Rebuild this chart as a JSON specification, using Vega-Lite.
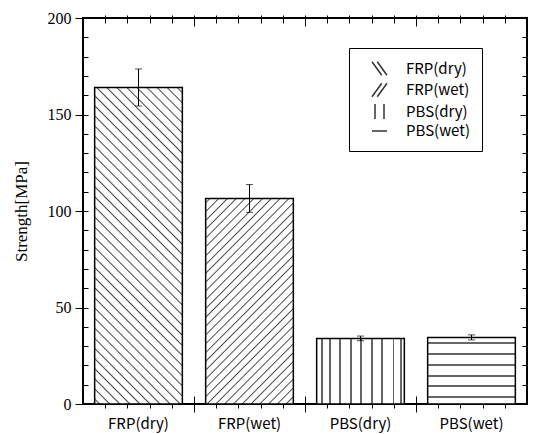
{
 "$schema": "https://vega.github.io/schema/vega-lite/v6.json",
 "width": 444,
 "height": 386,
 "autosize": {"type": "none"},
 "padding": {"left": 83, "top": 18, "right": 6, "bottom": 30},
 "config": {
  "view": {"stroke": "black", "strokeWidth": 2},
  "axis": {"tickColor": "black", "tickWidth": 1, "grid": false, "domain": false, "labelColor": "black"},
  "legend": {"labelFont": "Noto Sans CJK JP", "labelFontSize": 15, "labelColor": "black"}
 },
 "data": {"values": [
  {"material": "FRP(dry)", "strength": 164, "err": 9.6},
  {"material": "FRP(wet)", "strength": 106.5, "err": 7.2},
  {"material": "PBS(dry)", "strength": 34, "err": 1.2},
  {"material": "PBS(wet)", "strength": 34.5, "err": 1.3}
 ]},
 "layer": [
  {
   "encoding": {
    "x": {"field": "material", "type": "nominal", "sort": null,
     "scale": {"paddingInner": 0, "paddingOuter": 0},
     "axis": {"orient": "bottom", "ticks": false, "labelAngle": 0, "labelFont": "Noto Sans CJK JP", "labelFontSize": 15, "labelColor": "black", "labelPadding": 12, "title": null}},
    "y": {"field": "strength", "type": "quantitative",
     "scale": {"domain": [0, 200], "nice": false}, "axis": null}
   },
   "layer": [
    {"transform": [{"filter": "datum.material == 'FRP(dry)'"}],
     "mark": {"type": "bar", "width": {"band": 0.79}, "stroke": "black", "strokeWidth": 1.5,
      "fill": {"gradient": "linear", "x1": 0, "y1": 1, "x2": 0.33, "y2": -0.186, "stops": [
{"offset":0.009,"color":"#fff"},{"offset":0.0125,"color":"#444"},{"offset":0.016,"color":"#fff"},
{"offset":0.034,"color":"#fff"},{"offset":0.0375,"color":"#444"},{"offset":0.041,"color":"#fff"},
{"offset":0.059,"color":"#fff"},{"offset":0.0625,"color":"#444"},{"offset":0.066,"color":"#fff"},
{"offset":0.084,"color":"#fff"},{"offset":0.0875,"color":"#444"},{"offset":0.091,"color":"#fff"},
{"offset":0.109,"color":"#fff"},{"offset":0.1125,"color":"#444"},{"offset":0.116,"color":"#fff"},
{"offset":0.134,"color":"#fff"},{"offset":0.1375,"color":"#444"},{"offset":0.141,"color":"#fff"},
{"offset":0.159,"color":"#fff"},{"offset":0.1625,"color":"#444"},{"offset":0.166,"color":"#fff"},
{"offset":0.184,"color":"#fff"},{"offset":0.1875,"color":"#444"},{"offset":0.191,"color":"#fff"},
{"offset":0.209,"color":"#fff"},{"offset":0.2125,"color":"#444"},{"offset":0.216,"color":"#fff"},
{"offset":0.234,"color":"#fff"},{"offset":0.2375,"color":"#444"},{"offset":0.241,"color":"#fff"},
{"offset":0.259,"color":"#fff"},{"offset":0.2625,"color":"#444"},{"offset":0.266,"color":"#fff"},
{"offset":0.284,"color":"#fff"},{"offset":0.2875,"color":"#444"},{"offset":0.291,"color":"#fff"},
{"offset":0.309,"color":"#fff"},{"offset":0.3125,"color":"#444"},{"offset":0.316,"color":"#fff"},
{"offset":0.334,"color":"#fff"},{"offset":0.3375,"color":"#444"},{"offset":0.341,"color":"#fff"},
{"offset":0.359,"color":"#fff"},{"offset":0.3625,"color":"#444"},{"offset":0.366,"color":"#fff"},
{"offset":0.384,"color":"#fff"},{"offset":0.3875,"color":"#444"},{"offset":0.391,"color":"#fff"},
{"offset":0.409,"color":"#fff"},{"offset":0.4125,"color":"#444"},{"offset":0.416,"color":"#fff"},
{"offset":0.434,"color":"#fff"},{"offset":0.4375,"color":"#444"},{"offset":0.441,"color":"#fff"},
{"offset":0.459,"color":"#fff"},{"offset":0.4625,"color":"#444"},{"offset":0.466,"color":"#fff"},
{"offset":0.484,"color":"#fff"},{"offset":0.4875,"color":"#444"},{"offset":0.491,"color":"#fff"},
{"offset":0.509,"color":"#fff"},{"offset":0.5125,"color":"#444"},{"offset":0.516,"color":"#fff"},
{"offset":0.534,"color":"#fff"},{"offset":0.5375,"color":"#444"},{"offset":0.541,"color":"#fff"},
{"offset":0.559,"color":"#fff"},{"offset":0.5625,"color":"#444"},{"offset":0.566,"color":"#fff"},
{"offset":0.584,"color":"#fff"},{"offset":0.5875,"color":"#444"},{"offset":0.591,"color":"#fff"},
{"offset":0.609,"color":"#fff"},{"offset":0.6125,"color":"#444"},{"offset":0.616,"color":"#fff"},
{"offset":0.634,"color":"#fff"},{"offset":0.6375,"color":"#444"},{"offset":0.641,"color":"#fff"},
{"offset":0.659,"color":"#fff"},{"offset":0.6625,"color":"#444"},{"offset":0.666,"color":"#fff"},
{"offset":0.684,"color":"#fff"},{"offset":0.6875,"color":"#444"},{"offset":0.691,"color":"#fff"},
{"offset":0.709,"color":"#fff"},{"offset":0.7125,"color":"#444"},{"offset":0.716,"color":"#fff"},
{"offset":0.734,"color":"#fff"},{"offset":0.7375,"color":"#444"},{"offset":0.741,"color":"#fff"},
{"offset":0.759,"color":"#fff"},{"offset":0.7625,"color":"#444"},{"offset":0.766,"color":"#fff"},
{"offset":0.784,"color":"#fff"},{"offset":0.7875,"color":"#444"},{"offset":0.791,"color":"#fff"},
{"offset":0.809,"color":"#fff"},{"offset":0.8125,"color":"#444"},{"offset":0.816,"color":"#fff"},
{"offset":0.834,"color":"#fff"},{"offset":0.8375,"color":"#444"},{"offset":0.841,"color":"#fff"},
{"offset":0.859,"color":"#fff"},{"offset":0.8625,"color":"#444"},{"offset":0.866,"color":"#fff"},
{"offset":0.884,"color":"#fff"},{"offset":0.8875,"color":"#444"},{"offset":0.891,"color":"#fff"},
{"offset":0.909,"color":"#fff"},{"offset":0.9125,"color":"#444"},{"offset":0.916,"color":"#fff"},
{"offset":0.934,"color":"#fff"},{"offset":0.9375,"color":"#444"},{"offset":0.941,"color":"#fff"},
{"offset":0.959,"color":"#fff"},{"offset":0.9625,"color":"#444"},{"offset":0.966,"color":"#fff"},
{"offset":0.984,"color":"#fff"},{"offset":0.9875,"color":"#444"},{"offset":0.991,"color":"#fff"}
      ]}}},
    {"transform": [{"filter": "datum.material == 'FRP(wet)'"}],
     "mark": {"type": "bar", "width": {"band": 0.79}, "stroke": "black", "strokeWidth": 1.5,
      "fill": {"gradient": "linear", "x1": 0, "y1": 0, "x2": 0.517, "y2": 1.207, "stops": [
{"offset":0.0105,"color":"#fff"},{"offset":0.015,"color":"#444"},{"offset":0.0195,"color":"#fff"},
{"offset":0.0405,"color":"#fff"},{"offset":0.045,"color":"#444"},{"offset":0.0495,"color":"#fff"},
{"offset":0.0705,"color":"#fff"},{"offset":0.075,"color":"#444"},{"offset":0.0795,"color":"#fff"},
{"offset":0.1005,"color":"#fff"},{"offset":0.105,"color":"#444"},{"offset":0.1095,"color":"#fff"},
{"offset":0.1305,"color":"#fff"},{"offset":0.135,"color":"#444"},{"offset":0.1395,"color":"#fff"},
{"offset":0.1605,"color":"#fff"},{"offset":0.165,"color":"#444"},{"offset":0.1695,"color":"#fff"},
{"offset":0.1905,"color":"#fff"},{"offset":0.195,"color":"#444"},{"offset":0.1995,"color":"#fff"},
{"offset":0.2205,"color":"#fff"},{"offset":0.225,"color":"#444"},{"offset":0.2295,"color":"#fff"},
{"offset":0.2505,"color":"#fff"},{"offset":0.255,"color":"#444"},{"offset":0.2595,"color":"#fff"},
{"offset":0.2805,"color":"#fff"},{"offset":0.285,"color":"#444"},{"offset":0.2895,"color":"#fff"},
{"offset":0.3105,"color":"#fff"},{"offset":0.315,"color":"#444"},{"offset":0.3195,"color":"#fff"},
{"offset":0.3405,"color":"#fff"},{"offset":0.345,"color":"#444"},{"offset":0.3495,"color":"#fff"},
{"offset":0.3705,"color":"#fff"},{"offset":0.375,"color":"#444"},{"offset":0.3795,"color":"#fff"},
{"offset":0.4005,"color":"#fff"},{"offset":0.405,"color":"#444"},{"offset":0.4095,"color":"#fff"},
{"offset":0.4305,"color":"#fff"},{"offset":0.435,"color":"#444"},{"offset":0.4395,"color":"#fff"},
{"offset":0.4605,"color":"#fff"},{"offset":0.465,"color":"#444"},{"offset":0.4695,"color":"#fff"},
{"offset":0.4905,"color":"#fff"},{"offset":0.495,"color":"#444"},{"offset":0.4995,"color":"#fff"},
{"offset":0.5205,"color":"#fff"},{"offset":0.525,"color":"#444"},{"offset":0.5295,"color":"#fff"},
{"offset":0.5505,"color":"#fff"},{"offset":0.555,"color":"#444"},{"offset":0.5595,"color":"#fff"},
{"offset":0.5805,"color":"#fff"},{"offset":0.585,"color":"#444"},{"offset":0.5895,"color":"#fff"},
{"offset":0.6105,"color":"#fff"},{"offset":0.615,"color":"#444"},{"offset":0.6195,"color":"#fff"},
{"offset":0.6405,"color":"#fff"},{"offset":0.645,"color":"#444"},{"offset":0.6495,"color":"#fff"},
{"offset":0.6705,"color":"#fff"},{"offset":0.675,"color":"#444"},{"offset":0.6795,"color":"#fff"},
{"offset":0.7005,"color":"#fff"},{"offset":0.705,"color":"#444"},{"offset":0.7095,"color":"#fff"},
{"offset":0.7305,"color":"#fff"},{"offset":0.735,"color":"#444"},{"offset":0.7395,"color":"#fff"},
{"offset":0.7605,"color":"#fff"},{"offset":0.765,"color":"#444"},{"offset":0.7695,"color":"#fff"},
{"offset":0.7905,"color":"#fff"},{"offset":0.795,"color":"#444"},{"offset":0.7995,"color":"#fff"},
{"offset":0.8205,"color":"#fff"},{"offset":0.825,"color":"#444"},{"offset":0.8295,"color":"#fff"},
{"offset":0.8505,"color":"#fff"},{"offset":0.855,"color":"#444"},{"offset":0.8595,"color":"#fff"},
{"offset":0.8805,"color":"#fff"},{"offset":0.885,"color":"#444"},{"offset":0.8895,"color":"#fff"},
{"offset":0.9105,"color":"#fff"},{"offset":0.915,"color":"#444"},{"offset":0.9195,"color":"#fff"},
{"offset":0.9405,"color":"#fff"},{"offset":0.945,"color":"#444"},{"offset":0.9495,"color":"#fff"},
{"offset":0.9705,"color":"#fff"},{"offset":0.975,"color":"#444"},{"offset":0.9795,"color":"#fff"}
      ]}}},
    {"transform": [{"filter": "datum.material == 'PBS(dry)'"}],
     "mark": {"type": "bar", "width": {"band": 0.79}, "stroke": "black", "strokeWidth": 1.5,
      "fill": {"gradient": "linear", "x1": 0, "y1": 0, "x2": 1, "y2": 0, "stops": [
{"offset":0.054,"color":"#fff"},{"offset":0.054,"color":"#666"},{"offset":0.076,"color":"#666"},{"offset":0.076,"color":"#fff"},
{"offset":0.141,"color":"#fff"},{"offset":0.141,"color":"#666"},{"offset":0.163,"color":"#666"},{"offset":0.163,"color":"#fff"},
{"offset":0.255,"color":"#fff"},{"offset":0.255,"color":"#666"},{"offset":0.277,"color":"#666"},{"offset":0.277,"color":"#fff"},
{"offset":0.377,"color":"#fff"},{"offset":0.377,"color":"#666"},{"offset":0.399,"color":"#666"},{"offset":0.399,"color":"#fff"},
{"offset":0.495,"color":"#fff"},{"offset":0.495,"color":"#666"},{"offset":0.517,"color":"#666"},{"offset":0.517,"color":"#fff"},
{"offset":0.617,"color":"#fff"},{"offset":0.617,"color":"#666"},{"offset":0.639,"color":"#666"},{"offset":0.639,"color":"#fff"},
{"offset":0.739,"color":"#fff"},{"offset":0.739,"color":"#666"},{"offset":0.761,"color":"#666"},{"offset":0.761,"color":"#fff"},
{"offset":0.865,"color":"#fff"},{"offset":0.865,"color":"#666"},{"offset":0.887,"color":"#666"},{"offset":0.887,"color":"#fff"},
{"offset":0.948,"color":"#fff"},{"offset":0.948,"color":"#666"},{"offset":0.97,"color":"#666"},{"offset":0.97,"color":"#fff"}
      ]}}},
    {"transform": [{"filter": "datum.material == 'PBS(wet)'"}],
     "mark": {"type": "bar", "width": {"band": 0.79}, "stroke": "black", "strokeWidth": 1.5,
      "fill": {"gradient": "linear", "x1": 0, "y1": 0, "x2": 0, "y2": 1, "stops": [
{"offset":0.075,"color":"#fff"},{"offset":0.075,"color":"#666"},{"offset":0.105,"color":"#666"},{"offset":0.105,"color":"#fff"},
{"offset":0.235,"color":"#fff"},{"offset":0.235,"color":"#666"},{"offset":0.265,"color":"#666"},{"offset":0.265,"color":"#fff"},
{"offset":0.4,"color":"#fff"},{"offset":0.4,"color":"#666"},{"offset":0.43,"color":"#666"},{"offset":0.43,"color":"#fff"},
{"offset":0.565,"color":"#fff"},{"offset":0.565,"color":"#666"},{"offset":0.595,"color":"#666"},{"offset":0.595,"color":"#fff"},
{"offset":0.711,"color":"#fff"},{"offset":0.711,"color":"#666"},{"offset":0.741,"color":"#666"},{"offset":0.741,"color":"#fff"},
{"offset":0.875,"color":"#fff"},{"offset":0.875,"color":"#666"},{"offset":0.905,"color":"#666"},{"offset":0.905,"color":"#fff"}
      ]}}},
    {"mark": {"type": "errorbar", "ticks": {"size": 7}, "color": "black"},
     "encoding": {"yError": {"field": "err"}}},
    {"mark": {"type": "point", "opacity": 0, "filled": false, "color": "#333", "strokeWidth": 1.5},
     "encoding": {"shape": {"field": "material", "type": "nominal",
      "scale": {"domain": ["FRP(dry)", "FRP(wet)", "PBS(dry)", "PBS(wet)"],
       "range": ["M-1,-0.9L0.3,0.9M-0.3,-0.9L1,0.9", "M-1,0.9L0.3,-0.9M-0.3,0.9L1,-0.9", "M-0.6,-1L-0.6,1M0.6,-1L0.6,1", "M-1,0L1,0"]},
      "legend": {"title": null, "orient": "none", "legendX": 266, "legendY": 30, "padding": 12, "strokeColor": "black",
       "symbolSize": 225, "symbolStrokeWidth": 1.5, "symbolStrokeColor": "#333", "symbolOpacity": 1, "symbolOffset": 10,
       "labelFont": "Noto Sans CJK JP", "labelFontSize": 15, "labelColor": "black", "labelOffset": 18, "rowPadding": 0.5,
       "encode": {"legend": {"update": {"strokeWidth": {"value": 2}}}, "symbols": {"update": {"opacity": {"value": 1}}}}}}}}
   ]
  },
  {"mark": {"type": "point", "opacity": 0},
   "encoding": {
    "x": {"datum": 0, "type": "quantitative", "scale": {"domain": [0, 20], "nice": false}, "axis": null},
    "y": {"datum": 0, "type": "quantitative", "scale": {"domain": [0, 200], "nice": false},
     "axis": {"orient": "left", "values": [0, 50, 100, 150, 200], "tickSize": 8, "labelFont": "Liberation Serif", "labelFontSize": 16, "labelColor": "black", "labelPadding": 4, "labelFlush": false,
      "title": "Strength[MPa]", "titleFont": "Liberation Serif", "titleFontSize": 17, "titleFontWeight": "normal", "titleColor": "black", "titleX": -62, "titleY": 193, "titleAngle": 270, "titleAlign": "center", "titleBaseline": "middle"}}
   }},
  {"mark": {"type": "point", "opacity": 0},
   "encoding": {
    "x": {"datum": 0, "type": "quantitative", "scale": {"domain": [0, 20], "nice": false},
     "axis": {"orient": "bottom", "values": [1,2,3,4,6,7,8,9,11,12,13,14,16,17,18,19], "tickSize": 4, "labels": false, "title": null}},
    "y": {"datum": 0, "type": "quantitative", "scale": {"domain": [0, 200], "nice": false},
     "axis": {"orient": "left", "values": [10,20,30,40,50,60,70,80,90,100,110,120,130,140,150,160,170,180,190], "tickSize": -5, "labels": false, "title": null}}
   }},
  {"mark": {"type": "point", "opacity": 0},
   "encoding": {
    "x": {"datum": 0, "type": "quantitative", "scale": {"domain": [0, 20], "nice": false},
     "axis": {"orient": "bottom", "values": [1,2,3,4,6,7,8,9,11,12,13,14,16,17,18,19], "tickSize": -6, "labels": false, "title": null}},
    "y": {"datum": 0, "type": "quantitative", "scale": {"domain": [0, 200], "nice": false},
     "axis": {"orient": "right", "values": [10,20,30,40,60,70,80,90,110,120,130,140,160,170,180,190], "tickSize": -5, "labels": false, "title": null}}
   }},
  {"mark": {"type": "point", "opacity": 0},
   "encoding": {
    "x": {"datum": 0, "type": "quantitative", "scale": {"domain": [0, 20], "nice": false},
     "axis": {"orient": "bottom", "values": [5, 10, 15], "tickSize": 8, "labels": false, "title": null}},
    "y": {"datum": 0, "type": "quantitative", "scale": {"domain": [0, 200], "nice": false},
     "axis": {"orient": "right", "values": [50, 100, 150], "tickSize": -7, "labels": false, "title": null}}
   }},
  {"mark": {"type": "point", "opacity": 0},
   "encoding": {
    "x": {"datum": 0, "type": "quantitative", "scale": {"domain": [0, 20], "nice": false},
     "axis": {"orient": "bottom", "values": [5, 10, 15], "tickSize": -8, "labels": false, "title": null}},
    "y": {"datum": 0, "type": "quantitative", "scale": {"domain": [0, 200], "nice": false}, "axis": null}
   }},
  {"mark": {"type": "point", "opacity": 0},
   "encoding": {
    "x": {"datum": 0, "type": "quantitative", "scale": {"domain": [0, 20], "nice": false},
     "axis": {"orient": "top", "values": [5, 10, 15], "tickSize": -8, "labels": false, "title": null}},
    "y": {"datum": 0, "type": "quantitative", "scale": {"domain": [0, 200], "nice": false}, "axis": null}
   }},
  {"mark": {"type": "point", "opacity": 0},
   "encoding": {
    "x": {"datum": 0, "type": "quantitative", "scale": {"domain": [0, 20], "nice": false},
     "axis": {"orient": "top", "values": [5, 10, 15], "tickSize": 3, "labels": false, "title": null}},
    "y": {"datum": 0, "type": "quantitative", "scale": {"domain": [0, 200], "nice": false}, "axis": null}
   }},
  {"mark": {"type": "point", "opacity": 0},
   "encoding": {
    "x": {"datum": 0, "type": "quantitative", "scale": {"domain": [0, 20], "nice": false},
     "axis": {"orient": "top", "values": [1,2,3,4,6,7,8,9,11,12,13,14,16,17,18,19], "tickSize": -5, "labels": false, "title": null}},
    "y": {"datum": 0, "type": "quantitative", "scale": {"domain": [0, 200], "nice": false}, "axis": null}
   }},
  {"mark": {"type": "point", "opacity": 0},
   "encoding": {
    "x": {"datum": 0, "type": "quantitative", "scale": {"domain": [0, 20], "nice": false},
     "axis": {"orient": "top", "values": [1,2,3,4,6,7,8,9,11,12,13,14,16,17,18,19], "tickSize": 3, "labels": false, "title": null}},
    "y": {"datum": 0, "type": "quantitative", "scale": {"domain": [0, 200], "nice": false}, "axis": null}
   }}
 ],
 "resolve": {"scale": {"x": "independent", "y": "independent"}, "axis": {"x": "independent", "y": "independent"}}
}
